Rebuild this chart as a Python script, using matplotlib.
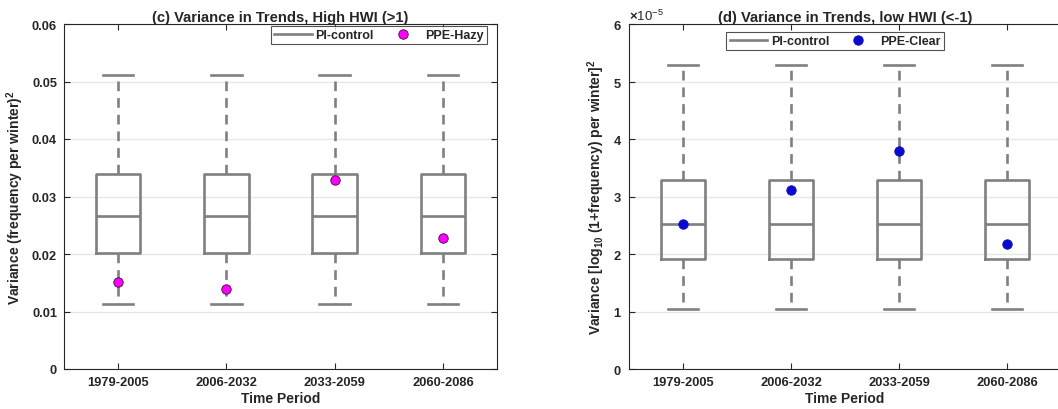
import matplotlib
matplotlib.use("Agg")
import matplotlib.pyplot as plt
from matplotlib.lines import Line2D
from matplotlib.ticker import ScalarFormatter

plt.rcParams['font.family'] = ['Liberation Sans', 'DejaVu Sans']
plt.rcParams['font.weight'] = 'bold'
plt.rcParams['mathtext.fontset'] = 'custom'
plt.rcParams['mathtext.rm'] = 'Liberation Sans:bold'
plt.rcParams['mathtext.it'] = 'Liberation Sans:bold'
plt.rcParams['mathtext.bf'] = 'Liberation Sans:bold'
plt.rcParams['lines.scale_dashes'] = False

periods = ["1979-2005", "2006-2032", "2033-2059", "2060-2086"]

# PI-control box statistics, panel (c): high HWI
hi_whislo = [0.0113, 0.0113, 0.0113, 0.0113]
hi_q1 = [0.0201, 0.0201, 0.0201, 0.0201]
hi_med = [0.0266, 0.0266, 0.0266, 0.0266]
hi_q3 = [0.0339, 0.0339, 0.0339, 0.0339]
hi_whishi = [0.0511, 0.0511, 0.0511, 0.0511]
ppe_hazy = [0.0151, 0.0140, 0.0328, 0.0228]

# PI-control box statistics, panel (d): low HWI
lo_whislo = [1.04e-5, 1.04e-5, 1.04e-5, 1.04e-5]
lo_q1 = [1.91e-5, 1.91e-5, 1.91e-5, 1.91e-5]
lo_med = [2.52e-5, 2.52e-5, 2.52e-5, 2.52e-5]
lo_q3 = [3.29e-5, 3.29e-5, 3.29e-5, 3.29e-5]
lo_whishi = [5.29e-5, 5.29e-5, 5.29e-5, 5.29e-5]
ppe_clear = [2.52e-5, 3.11e-5, 3.79e-5, 2.17e-5]

GRAY = '#808080'
AXC = '#262626'
W, H = 1058, 410
LW = 1.9

fig = plt.figure(figsize=(W / 100, H / 100), dpi=100)
ax_c = fig.add_axes([64 / W, 40 / H, 433 / W, 345 / H])
ax_d = fig.add_axes([629 / W, 40 / H, 432 / W, 345 / H])


def draw_panel(ax, lo, q1, med, q3, hi, pts, pcolor, pedge, ymax, yticks,
               title, ylabel, pname, leg_anchor):
    stats = [dict(whislo=a, q1=b, med=c, q3=d, whishi=e, fliers=[])
             for a, b, c, d, e in zip(lo, q1, med, q3, hi)]
    pos = list(range(1, len(stats) + 1))
    ax.bxp(stats, positions=pos, widths=0.41, capwidths=0.28,
           showfliers=False, patch_artist=False,
           boxprops=dict(color=GRAY, linewidth=LW),
           medianprops=dict(color=GRAY, linewidth=LW),
           whiskerprops=dict(color=GRAY, linewidth=LW, dashes=(7, 5)),
           capprops=dict(color=GRAY, linewidth=LW), zorder=3)
    ax.plot(pos, pts, linestyle='none', marker='o', markersize=6.8,
            markerfacecolor=pcolor, markeredgecolor=pedge,
            markeredgewidth=0.6, zorder=4)
    ax.set_xlim(0.5, len(stats) + 0.5)
    ax.set_ylim(0, ymax)
    ax.set_yticks(yticks)
    ax.set_xticks(pos)
    ax.set_xticklabels(periods)
    ax.grid(axis='y', color='#e6e6e6', linewidth=0.9, zorder=0)
    ax.set_axisbelow(True)
    ax.tick_params(direction='in', top=True, right=True, length=4,
                   width=0.8, color=AXC, labelsize=9.3, labelcolor=AXC,
                   pad=5)
    for lab in ax.get_xticklabels() + ax.get_yticklabels():
        lab.set_fontweight('bold')
    for sp in ax.spines.values():
        sp.set_color(AXC)
        sp.set_linewidth(0.8)
    ax.set_title(title, fontsize=10.6, fontweight='bold', color=AXC, pad=2)
    ax.set_xlabel('Time Period', fontsize=10, fontweight='bold',
                  color=AXC, labelpad=2)
    ax.set_ylabel(ylabel, fontsize=10, fontweight='bold', color=AXC,
                  labelpad=4)
    handles = [Line2D([], [], color=GRAY, linewidth=LW),
               Line2D([], [], linestyle='none', marker='o', markersize=6.8,
                      markerfacecolor=pcolor, markeredgecolor=pedge,
                      markeredgewidth=0.6)]
    leg = ax.legend(handles, ['PI-control', pname], ncol=2,
                    loc='upper right', bbox_to_anchor=leg_anchor,
                    bbox_transform=fig.transFigure,
                    prop=dict(size=9, weight='bold'), frameon=True,
                    fancybox=False, edgecolor=AXC, handlelength=3.0,
                    handletextpad=0.3, columnspacing=0.8, borderpad=0.25,
                    borderaxespad=0)
    leg.get_frame().set_linewidth(0.8)
    for t in leg.get_texts():
        t.set_color(AXC)


draw_panel(ax_c, hi_whislo, hi_q1, hi_med, hi_q3, hi_whishi, ppe_hazy,
           '#ff00ff', '#3a0a3a', 0.06,
           [0, 0.01, 0.02, 0.03, 0.04, 0.05, 0.06],
           '(c) Variance in Trends, High HWI (>1)',
           'Variance (frequency per winter)$^2$', 'PPE-Hazy',
           (487 / W, 1 - 27 / H))
ax_c.set_yticklabels(['0', '0.01', '0.02', '0.03', '0.04', '0.05', '0.06'])

draw_panel(ax_d, lo_whislo, lo_q1, lo_med, lo_q3, lo_whishi, ppe_clear,
           '#0a0acc', '#0a0acc', 6e-5,
           [0, 1e-5, 2e-5, 3e-5, 4e-5, 5e-5, 6e-5],
           '(d) Variance in Trends, low HWI (<-1)',
           'Variance [log$_{10}$ (1+frequency) per winter]$^2$', 'PPE-Clear',
           (944 / W, 1 - 33 / H))
# right edge of panel (d) runs off the figure
ax_d.spines['right'].set_visible(False)
ax_d.tick_params(right=False)
fmt = ScalarFormatter(useMathText=True)
fmt.set_powerlimits((0, 0))
ax_d.yaxis.set_major_formatter(fmt)
off = ax_d.yaxis.get_offset_text()
off.set_fontsize(9.5)
off.set_fontweight('normal')
off.set_color(AXC)

fig.savefig('out.png', dpi=100)
